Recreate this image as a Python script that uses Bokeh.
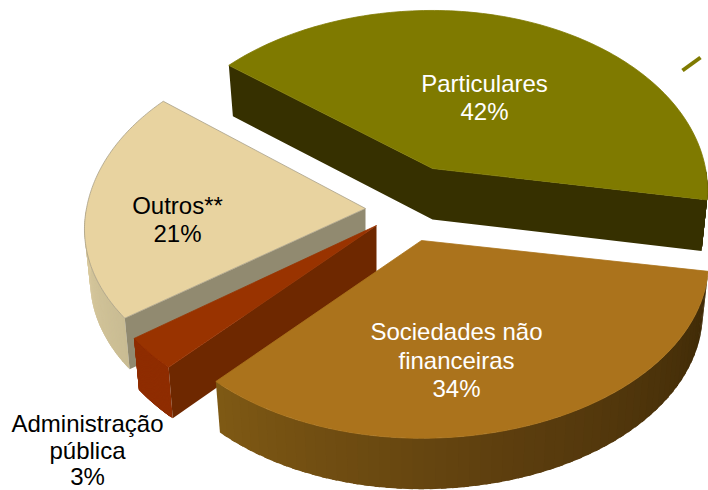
import math
from bokeh.plotting import figure
from bokeh.embed import file_html
from bokeh.resources import INLINE
from bokeh.core.properties import value

# data
categories = ["Particulares", "Sociedades não financeiras", "Administração pública", "Outros**"]
shares = [42, 34, 3, 21]

# layout of the pie, in picture pixels
START_ANGLE = -141.2   # angle at which the first slice starts
PERSPECTIVE = 0.12
DEPTH = 51
SHRINK = 0.98
APEX = {"Particulares": (432, 168), "Sociedades não financeiras": (421, 240),
        "Administração pública": (376, 225), "Outros**": (365, 208)}
# right radius, left radius, front radius, back radius
RADII = {"Particulares": (273, 281, 177, 177), "Sociedades não financeiras": (285, 278, 174, 174),
         "Administração pública": (281, 281, 175, 175), "Outros**": (279, 279, 170, 184)}
TOP = {"Particulares": "#7f7a00", "Sociedades não financeiras": "#ab731c",
       "Administração pública": "#993300", "Outros**": "#e8d3a0"}
RADIAL = {"Particulares": "#363000", "Sociedades não financeiras": "#5b3d0e",
          "Administração pública": "#6e2800", "Outros**": "#918a70"}
RIM = {"Particulares": ["#363000", "#363000"],
       "Sociedades não financeiras": ["#3d2906", "#5b3d0e", "#7f5914"],
       "Administração pública": ["#8f2d00", "#8f2d00"],
       "Outros**": ["#c9bc93", "#dccca0"]}
DRAW_ORDER = ["Outros**", "Administração pública", "Particulares", "Sociedades não financeiras"]
LABELS = [("Particulares", 484, 83, "white"), ("42%", 484, 111, "white"),
          ("Outros**", 177, 205, "black"), ("21%", 177, 233, "black"),
          ("Sociedades não", 456, 331, "white"), ("financeiras", 456, 360, "white"), ("34%", 456, 388, "white"),
          ("Administração", 87, 423, "black"), ("pública", 87, 450, "black"), ("3%", 87, 476, "black")]


def hex_mix(stops, t):
    n = len(stops) - 1
    i = min(int(t * n), n - 1)
    f = t * n - i
    a = [int(stops[i][k:k + 2], 16) for k in (1, 3, 5)]
    b = [int(stops[i + 1][k:k + 2], 16) for k in (1, 3, 5)]
    return "#%02x%02x%02x" % tuple(round(a[k] + (b[k] - a[k]) * f) for k in range(3))


def point(name, deg):
    cx, cy = APEX[name]
    r_right, r_left, r_front, r_back = RADII[name]
    u, v = math.cos(math.radians(deg)), math.sin(math.radians(deg))
    w = 1 / (1 - PERSPECTIVE * v)
    rx = r_right if u > 0 else r_left
    ry = r_front if v > 0 else r_back
    return cx + rx * u * w, cy + ry * v * w


def lower(name, pt):
    cx = APEX[name][0]
    return cx + (pt[0] - cx) * SHRINK, pt[1] + DEPTH


spans = {}
a = START_ANGLE
for c, s in zip(categories, shares):
    spans[c] = (a, a + s * 3.6)
    a += s * 3.6

p = figure(width=708, height=490, x_range=(0, 708), y_range=(490, 0),
           output_backend="svg", toolbar_location=None, min_border=0)
p.axis.visible = False
p.grid.visible = False
p.outline_line_color = None
p.background_fill_color = "white"


def quad(name, a1, a2, color):
    t1, t2 = point(name, a1), point(name, a2)
    b1, b2 = lower(name, t1), lower(name, t2)
    p.patch([t1[0], t2[0], b2[0], b1[0]], [t1[1], t2[1], b2[1], b1[1]],
            fill_color=color, line_color=None)


def radial(name, degs):
    cx, cy = APEX[name]
    tops = [point(name, d) for d in degs]
    bots = [lower(name, t) for t in tops]
    if len(degs) == 2:
        xs = [tops[0][0], cx, tops[1][0], bots[1][0], cx, bots[0][0]]
        ys = [tops[0][1], cy, tops[1][1], bots[1][1], cy + DEPTH, bots[0][1]]
    else:
        xs = [cx, tops[0][0], bots[0][0], cx]
        ys = [cy, tops[0][1], bots[0][1], cy + DEPTH]
    p.patch(xs, ys, fill_color=RADIAL[name], line_color=None)


for name in DRAW_ORDER:
    a1, a2 = spans[name]
    # front-facing part of the rim (angles with sin > 0)
    if name == "Particulares":
        lo, hi = 0.0, a2
    elif name == "Outros**":
        lo, hi = a1, min(a2, 180)
    else:
        lo, hi = a1, a2
    steps = 60
    for i in range(steps):
        d1 = lo + (hi - lo) * i / steps
        d2 = min(hi, lo + (hi - lo) * (i + 1) / steps + 1.0)
        quad(name, d1, d2, hex_mix(RIM[name], (i + 0.5) / steps))
    if name == "Particulares":
        radial(name, [a1, a2])
    elif name in ("Outros**", "Administração pública"):
        radial(name, [a1])
    xs, ys = [APEX[name][0]], [APEX[name][1]]
    for i in range(121):
        x, y = point(name, a1 + (a2 - a1) * i / 120)
        xs.append(x)
        ys.append(y)
    edge = "#a89f88" if name == "Outros**" else TOP[name]
    p.patch(xs, ys, fill_color=TOP[name], line_color=edge, line_width=0.8)

# leader line of the first slice
p.line([682, 700], [70, 57], line_color=TOP["Particulares"], line_width=4)

for txt, x, y, col in LABELS:
    p.text([x], [y], text=[txt], text_font=value("Liberation Sans"), text_font_size="24px",
           text_color=col, text_align="center", text_baseline="middle")

open("out.html", "w").write(file_html(p, INLINE))
